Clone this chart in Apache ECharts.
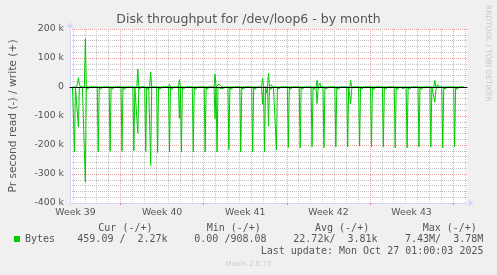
<!DOCTYPE html>
<html><head><meta charset="utf-8">
<script src="https://cdn.jsdelivr.net/npm/echarts@6/dist/echarts.min.js"></script>
<style>html,body{margin:0;padding:0;background:#f0f0f0}#c{width:497px;height:275px}</style>
</head><body><div id="c"></div>
<script>
// x unit: hours since Sun 2025-09-28 00:00 ; y unit: k bytes/s
const xMin = -102, xMax = 700;
const dayLines = [-96,-72,-48,-24,24,48,72,96,120,144,192,216,240,264,288,312,360,384,408,432,456,480,528,552,576,600,624,648,696];
const weekLines = [0,168,336,504,672];
const weekLabelPos = [-91,84,252,420,588];
const weekLabels = ['Week 39','Week 40','Week 41','Week 42','Week 43'];

// read (drawn negative)
const readBytes = [
[-97,0],[-95,0],[-93,-224],[-91,0],[-89,-5],[-87,0],[-85,-138],[-83,0],[-81,-6],[-79,-2],[-77,0],
[-73,0],[-71,-328],[-69,0],[-67,-7],[-65,-3],[-63,-8],[-61,0],
[-47,0],[-45,-224],[-43,0],[-41,-8],[-39,-2],[-37,-6],[-35,0],
[-23,0],[-21,-222],[-19,0],[-17,-7],[-15,-3],[-13,-8],[-11,0],
[1,0],[3,-222],[5,0],[7,-8],[9,-2],[11,-5],[13,0],
[25,0],[27,-220],[29,0],[31,-6],[33,0],[35,-159],[37,0],[39,-7],[41,0],
[49,0],[51,-222],[53,0],[55,-8],[57,0],[59,0],[61,-270],[63,0],[65,-6],[67,0],
[73,0],[75,-226],[77,0],[79,-7],[81,-2],[83,-6],[85,0],
[97,0],[99,-224],[101,0],[103,-8],[105,-3],[107,-7],[109,0],
[117,0],[119,-108],[121,0],[123,-224],[125,0],[127,-7],[129,-2],[131,-6],[133,0],
[145,0],[147,-224],[149,0],[151,-8],[153,-3],[155,-7],[157,0],
[169,0],[171,-224],[173,0],[175,-7],[177,-2],[179,-6],[181,0],
[189,0],[191,-109],[193,0],[195,-224],[197,0],[199,-5],[201,0],[203,-6],[205,0],
[217,0],[219,-216],[221,0],[223,-8],[225,-2],[227,-7],[229,0],
[241,0],[243,-224],[245,0],[247,-7],[249,-3],[251,-6],[253,0],
[265,0],[267,-224],[269,0],[271,-8],[273,-2],[275,-6],[277,0],
[285,0],[287,-60],[289,0],[291,-224],[293,0],[295,-20],[297,0],[299,-135],[301,0],[303,-8],[305,-2],[307,-6],[309,0],
[313,0],[315,-216],[317,0],[319,-7],[321,-3],[323,-8],[325,0],
[337,0],[339,-209],[341,0],[343,-8],[345,-2],[347,-6],[349,0],
[361,0],[363,-209],[365,0],[367,-7],[369,-3],[371,-7],[373,0],
[385,0],[387,-207],[389,0],[391,-8],[393,-2],[395,0],[397,-57],[399,-10],[401,0],[403,-5],[405,0],
[409,0],[411,-209],[413,0],[415,-7],[417,-3],[419,-7],[421,0],
[433,0],[435,-207],[437,0],[439,-8],[441,-2],[443,-6],[445,0],
[457,0],[459,-207],[461,0],[463,-6],[465,-57],[467,-8],[469,0],[471,-5],[473,0],
[481,0],[483,-204],[485,0],[487,-7],[489,-3],[491,-7],[493,0],
[505,0],[507,-207],[509,0],[511,-8],[513,-2],[515,-6],[517,0],
[529,0],[531,-207],[533,0],[535,-7],[537,-3],[539,-7],[541,0],
[553,0],[555,-210],[557,0],[559,-8],[561,-2],[563,-6],[565,0],[569,0],[571,-6],[573,0],
[577,0],[579,-210],[581,0],[583,-7],[585,-3],[587,-7],[589,0],
[601,0],[603,-207],[605,0],[607,-8],[609,-2],[611,-6],[613,0],
[625,0],[627,-207],[629,0],[631,-5],[633,0],[635,-52],[637,-10],[639,0],[641,-6],[643,0],
[649,0],[651,-210],[653,0],[655,-7],[657,-3],[659,-6],[661,0],
[673,0],[675,-207],[677,0],[679,-8],[681,-2],[683,-6],[685,0],[687,-4],[689,0],[693,0]
];
// write (drawn positive)
const writeBytes = [
[-97,0],[-89,0],[-87,12],[-85,32],[-83,10],[-81,0],[-73,0],[-71,167],[-69,0],[-67,4],[-65,0],
[-42,0],[-40,3],[-38,0],[5,0],[15,0],[17,5],[19,0],[33,0],[35,61],[37,0],[39,5],[41,0],
[59,0],[61,52],[63,0],[65,4],[67,0],[97,0],[99,9],[101,0],[117,0],[119,25],[121,0],[125,3],[127,0],
[150,0],[152,4],[154,0],[189,0],[191,44],[193,0],[197,6],[199,10],[201,4],[203,8],[205,0],
[245,0],[247,4],[249,0],[285,0],[287,30],[289,0],[297,0],[299,48],[301,0],[303,6],[305,8],[307,0],
[342,0],[344,4],[346,0],[395,0],[397,23],[399,0],[401,6],[403,13],[405,0],
[463,0],[465,23],[467,0],[469,6],[471,0],[510,0],[512,4],[514,0],
[633,0],[635,23],[637,0],[639,5],[641,8],[643,0],[680,0],[682,3],[684,0],[693,0]
];

const legendHeaders = [['Cur (-/+)',98.3],['Min (-/+)',206.7],['Avg (-/+)',315],['Max (-/+)',422.7]];
const legendValues = [['459.09 /  2.27k',77.3],['0.00 /908.08',194.3],['22.72k/  3.81k',293.3],['7.43M/  3.78M',405]];

const FONT = 'DejaVu Sans', MONO = 'DejaVu Sans Mono';
const TXT = '#555';
const axisBlue = '#CFD6F8';
const minorGrid = '#c4c4c4';
const majorGrid = '#eca0a0';

function baseX(extra) {
  return Object.assign({
    type: 'value', min: xMin, max: xMax, gridIndex: 0, position: 'bottom',
    axisLine: { show: false, onZero: false },
    axisTick: { show: false }, axisLabel: { show: false },
    splitLine: { show: false }
  }, extra);
}

const chart = echarts.init(document.getElementById('c'), null, { renderer: 'canvas' });
const graphics = [];
const monoFont = '10px "' + MONO + '"';
legendHeaders.forEach(h => graphics.push({ type: 'text', x: h[1], y: 228, style: { text: h[0], fill: TXT, font: monoFont, textVerticalAlign: 'middle', textAlign: 'left' } }));
legendValues.forEach(h => graphics.push({ type: 'text', x: h[1], y: 239.5, style: { text: h[0], fill: TXT, font: monoFont, textVerticalAlign: 'middle', textAlign: 'left' } }));
graphics.push({ type: 'text', x: 260.7, y: 251, style: { text: 'Last update: Mon Oct 27 01:00:03 2025', fill: TXT, font: monoFont, textVerticalAlign: 'middle', textAlign: 'left' } });
graphics.push({ type: 'text', x: 248.3, y: 264.5, style: { text: 'Munin 2.0.73', fill: '#cccccc', font: '7px "' + FONT + '"', textVerticalAlign: 'middle', textAlign: 'center' } });
graphics.push({ type: 'text', x: 488, y: 5, rotation: -Math.PI / 2, style: { text: 'RRDTOOL / TOBI OETIKER', fill: '#c8c8c8', font: '7.5px "' + FONT + '"', textVerticalAlign: 'middle', textAlign: 'left' } });

chart.setOption({
  animation: false,
  backgroundColor: '#f0f0f0',
  title: { text: 'Disk throughput for /dev/loop6 - by month', left: 'center', top: 13, padding: 0,
    textStyle: { fontFamily: FONT, fontSize: 12.5, fontWeight: 'normal', color: TXT } },
  legend: { data: [{ name: 'Bytes', icon: 'rect' }], left: 14, top: 234, padding: 0, itemWidth: 6, itemHeight: 6,
    selectedMode: false, textStyle: { fontFamily: MONO, fontSize: 10, color: TXT } },
  grid: { left: 66, right: 30, top: 29, bottom: 72, show: true, backgroundColor: '#ffffff', borderWidth: 0 },
  xAxis: [
    baseX({ axisLine: { show: true, onZero: false, symbol: ['none', 'triangle'], symbolSize: [7, 5], symbolOffset: [0, 4], lineStyle: { color: axisBlue, width: 1 } } }),
    baseX({ axisTick: { show: false, customValues: dayLines }, splitLine: { show: true, lineStyle: { color: minorGrid, width: 1, type: [1, 1] } } }),
    baseX({ axisTick: { show: true, customValues: weekLines, length: 2, lineStyle: { color: '#e08080' } }, splitLine: { show: true, lineStyle: { color: majorGrid, width: 1, type: [1, 1] } } }),
    baseX({ axisLabel: { show: true, customValues: weekLabelPos, margin: 5, color: TXT, fontFamily: FONT, fontSize: 9.33,
      formatter: v => weekLabels[weekLabelPos.indexOf(v)] || '' } }),
    baseX({ z: 5, axisLine: { show: true, onZero: true, lineStyle: { color: '#000000', width: 1 } } })
  ],
  yAxis: {
    type: 'value', min: -400, max: 200, interval: 100,
    name: 'Pr second read (-) / write (+)', nameLocation: 'middle', nameGap: 51,
    nameTextStyle: { fontFamily: FONT, fontSize: 10.7, color: TXT },
    axisLine: { show: true, onZero: false, symbol: ['none', 'triangle'], symbolSize: [7, 5], symbolOffset: [0, 4], lineStyle: { color: axisBlue, width: 1 } },
    axisTick: { show: false },
    axisLabel: { margin: 6, color: TXT, fontFamily: FONT, fontSize: 9.33, formatter: v => v === 0 ? '0' : v + ' k' },
    splitLine: { show: true, lineStyle: { color: majorGrid, width: 1, type: [1, 1] } },
    minorTick: { show: false, splitNumber: 5 },
    minorSplitLine: { show: true, lineStyle: { color: minorGrid, width: 1, type: [1, 1] } }
  },
  series: [
    { name: 'Bytes', type: 'line', xAxisIndex: 0, data: readBytes, showSymbol: false, symbol: 'none', color: '#00cc00', lineStyle: { color: '#00cc00', width: 1 }, z: 3 },
    { name: 'Bytes', type: 'line', xAxisIndex: 0, data: writeBytes, showSymbol: false, symbol: 'none', color: '#00cc00', lineStyle: { color: '#00cc00', width: 1 }, z: 3 }
  ],
  graphic: graphics
});
</script></body></html>
